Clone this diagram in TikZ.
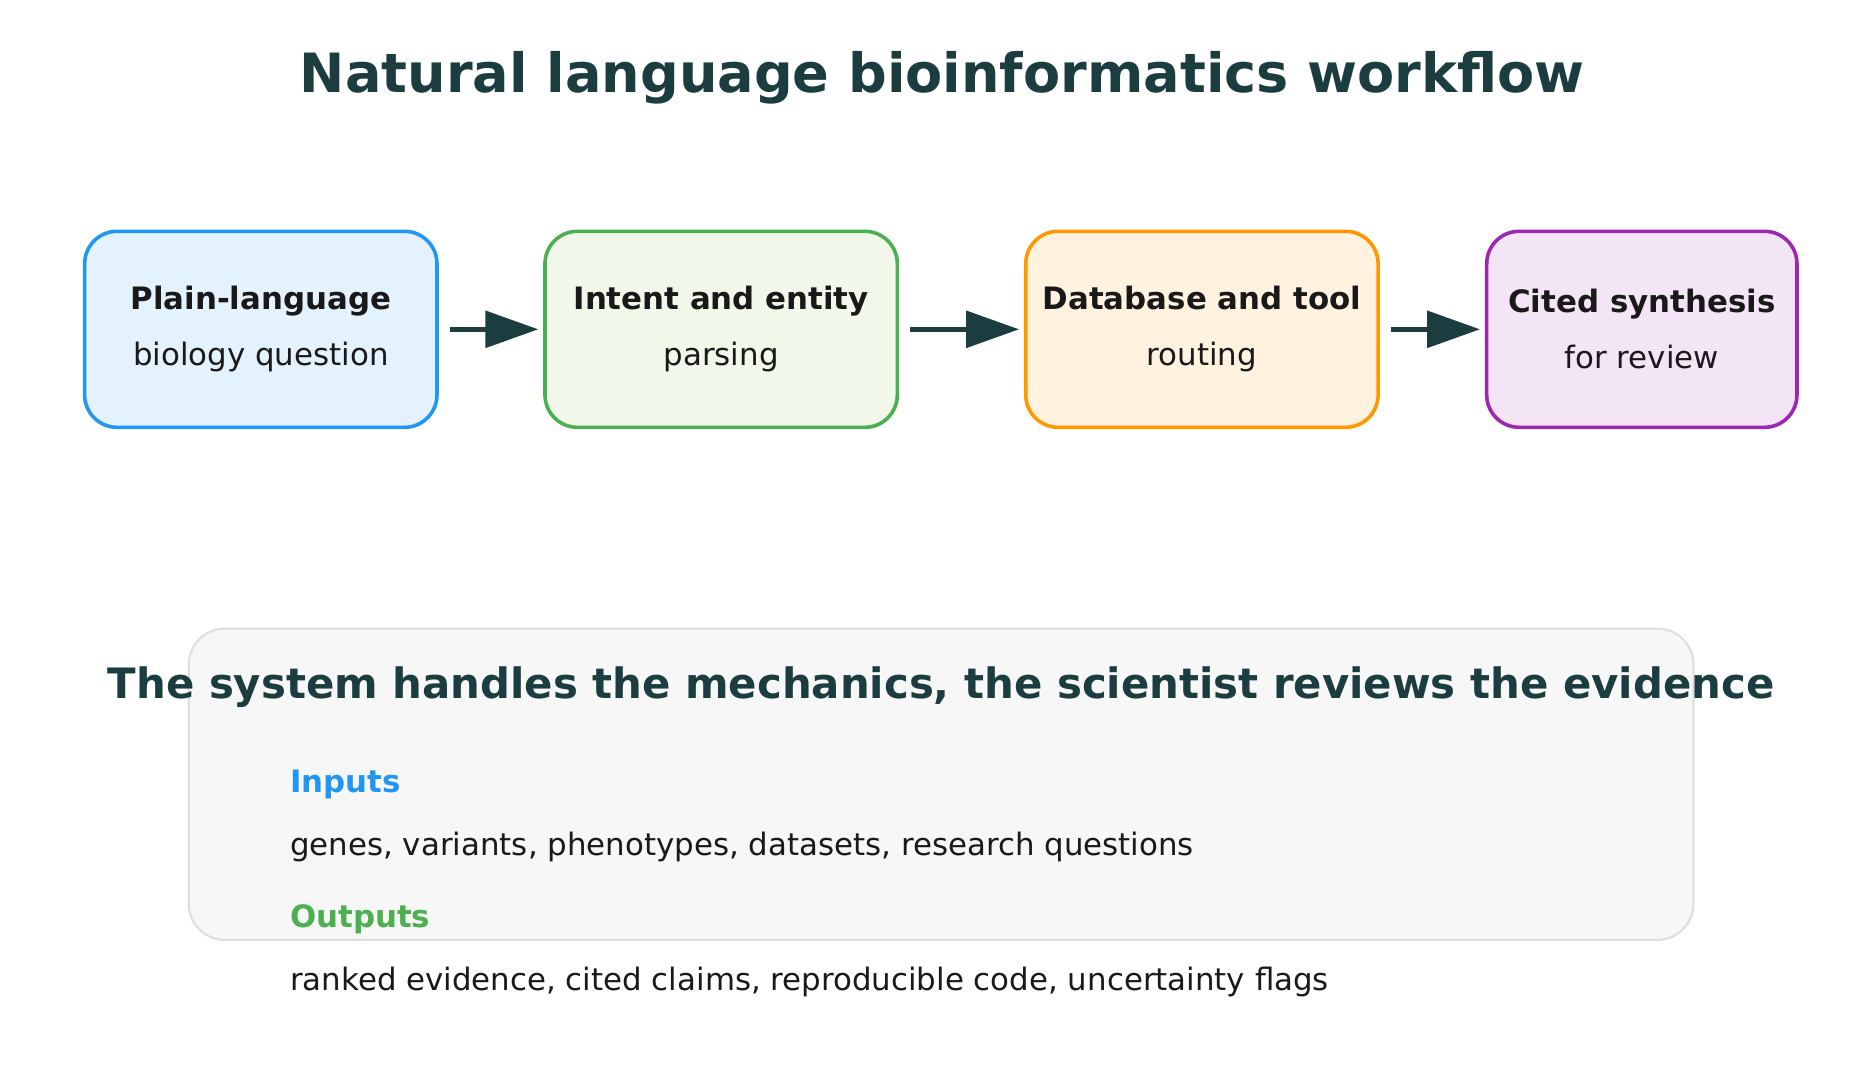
\documentclass[tikz,border=0pt]{standalone}
\usepackage{fontspec}
\setmainfont{DejaVu Sans}
\usetikzlibrary{arrows.meta,positioning}
\definecolor{ink}{HTML}{1B3D40}
\definecolor{bluel}{HTML}{2196F3}\definecolor{bluef}{HTML}{E3F2FD}
\definecolor{greenl}{HTML}{4CAF50}\definecolor{greenf}{HTML}{F1F8E9}
\definecolor{orangel}{HTML}{FF9800}\definecolor{orangef}{HTML}{FFF3E0}
\definecolor{purplel}{HTML}{9C27B0}\definecolor{purplef}{HTML}{F3E5F5}
\tikzset{
  step/.style={draw=#1l, fill=#1f, line width=0.85pt, rounded corners=0.27cm,
    minimum height=1.63cm, align=center, font=\fontsize{7.3}{13.3}\selectfont, text=black!90},
  flow/.style={draw=ink, line width=1.3pt, -{Triangle[length=0.44cm,width=0.3cm]},
    shorten <=0.09cm, shorten >=0.04cm},
  plain/.style={font=\fontsize{7.3}{9}\selectfont, text=black!90, anchor=west}
}
\begin{document}
\begin{tikzpicture}[x=0.01cm,y=-0.01cm]
\useasboundingbox (0,0) rectangle (1560,901);
\node[font=\bfseries\fontsize{12.8}{15}\selectfont, text=ink] (title) at (784,65) {Natural language bioinformatics workflow};
% pipeline
\node[step=blue, minimum width=2.93cm] (ask) at (217,274) {\textbf{Plain-language}\\biology question};
\node[step=green, minimum width=2.93cm] (parse) at (600,274) {\textbf{Intent and entity}\\parsing};
\node[step=orange, minimum width=2.93cm] (route) at (1000,274) {\textbf{Database and tool}\\routing};
\node[step=purple, minimum width=2.58cm] (cite) at (1366,274) {\textbf{Cited synthesis}\\for review};
\draw[flow] (ask) -- (parse);
\draw[flow] (parse) -- (route);
\draw[flow] (route) -- (cite);
% summary panel
\draw[draw=black!13, fill=black!3, line width=0.5pt, rounded corners=0.3cm] (157,523) rectangle (1409,782);
\node[font=\bfseries\fontsize{9.9}{12}\selectfont, text=ink] (summary) at (783,572) {The system handles the mechanics, the scientist reviews the evidence};
\node[plain, font=\bfseries\fontsize{7.3}{9}\selectfont, text=bluel] (inl) at (229,653) {Inputs};
\node[plain] (ins) at (229,705) {genes, variants, phenotypes, datasets, research questions};
\node[plain, font=\bfseries\fontsize{7.3}{9}\selectfont, text=greenl] (outl) at (229,765) {Outputs};
\node[plain] (outs) at (229,817) {ranked evidence, cited claims, reproducible code, uncertainty flags};
\end{tikzpicture}
\end{document}
